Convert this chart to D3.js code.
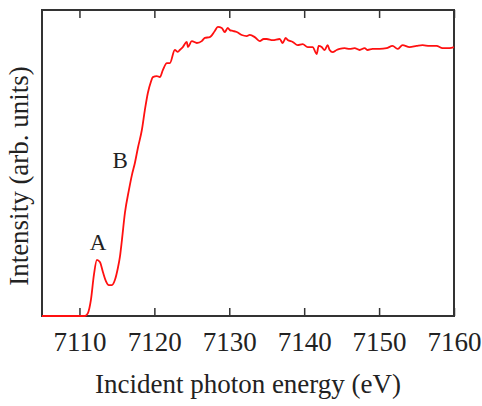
<!DOCTYPE html>
<html>
<head>
<meta charset="utf-8">
<script src="https://cdn.jsdelivr.net/npm/d3@7"></script>
<style>
  html, body { margin: 0; padding: 0; background: #fff; }
  svg { display: block; }
  text { font-family: "Liberation Serif", "Times New Roman", serif; fill: #222; }
</style>
</head>
<body>
<svg id="chart" width="482" height="406"></svg>
<script>
// ---- data ----
const energy = [
  7105.0, 7110.07, 7110.73, 7111.13, 7111.53, 7111.93, 7112.33, 7112.73, 7113.13, 7113.53,
  7113.93, 7114.33, 7114.73, 7115.13, 7115.4, 7115.67, 7116.07, 7116.6, 7117.0, 7117.4,
  7117.8, 7118.33, 7118.73, 7119.13, 7119.53, 7119.8, 7120.33, 7120.73, 7121.13, 7121.67,
  7122.07, 7122.73, 7123.13, 7123.4, 7123.8, 7124.33, 7124.47, 7125.0, 7125.67, 7126.33,
  7126.73, 7127.4, 7128.07, 7128.47, 7129.0, 7129.4, 7129.8, 7130.07, 7130.47, 7131.0,
  7131.67, 7132.33, 7132.73, 7133.4, 7134.07, 7134.6, 7135.0, 7135.8, 7136.73, 7137.13,
  7137.53, 7137.8, 7138.47, 7139.13, 7139.8, 7140.47, 7141.13, 7141.67, 7141.93, 7142.33,
  7142.73, 7143.13, 7143.4, 7143.8, 7144.33, 7144.73, 7145.4, 7146.07, 7146.73, 7147.4,
  7148.07, 7148.47, 7149.13, 7150.07, 7151.0, 7151.8, 7152.47, 7153.13, 7154.07, 7155.0,
  7155.8, 7156.73, 7157.67, 7158.47, 7159.4, 7160.0
];
const intensity = [
  0.000, 0.000, 0.000, 0.011, 0.060, 0.153, 0.209, 0.201, 0.164, 0.130,
  0.115, 0.115, 0.134, 0.179, 0.220, 0.283, 0.384, 0.469, 0.525, 0.570,
  0.626, 0.693, 0.767, 0.831, 0.872, 0.890, 0.894, 0.890, 0.916, 0.942,
  0.942, 0.991, 0.984, 0.991, 1.002, 1.021, 1.002, 1.024, 1.017, 1.024,
  1.036, 1.039, 1.062, 1.077, 1.073, 1.058, 1.073, 1.065, 1.062, 1.058,
  1.047, 1.043, 1.047, 1.039, 1.024, 1.032, 1.032, 1.028, 1.032, 1.017,
  1.036, 1.028, 1.021, 1.009, 1.013, 1.002, 1.002, 0.976, 1.006, 1.002,
  0.991, 1.009, 0.991, 0.983, 0.991, 0.995, 0.998, 0.995, 0.998, 0.991,
  0.998, 0.991, 0.995, 0.995, 0.998, 1.006, 0.995, 1.009, 1.002, 1.006,
  1.009, 1.006, 1.006, 0.998, 0.998, 1.002
];
const xTicks = [7110, 7120, 7130, 7140, 7150, 7160];
const xDomain = [7105, 7160];
const yDomain = [0, 1.14];
const peakLabels = ["A", "B"];
const peakEnergy = [7112.5, 7115.45];
const peakIntensity = [0.246, 0.551];
const xTitle = "Incident photon energy (eV)";
const yTitle = "Intensity (arb. units)";

// ---- layout ----
const svg = d3.select("#chart");
const mLeft = 42, mRight = 454, mTop = 10, mBottom = 316;

const x = d3.scaleLinear().domain(xDomain).range([mLeft, mRight]);
const y = d3.scaleLinear().domain(yDomain).range([mBottom, mTop]);

const frameColor = "#333";

// bottom axis (inward ticks)
const gx = svg.append("g").attr("transform", `translate(0,${mBottom})`)
  .call(d3.axisBottom(x).tickValues(xTicks).tickSizeInner(-8).tickSizeOuter(0).tickPadding(16)
    .tickFormat(d3.format("d")));
gx.select(".domain").remove();
gx.selectAll(".tick line").attr("stroke", frameColor).attr("stroke-width", 1.5);
gx.selectAll(".tick text").attr("font-size", 27).attr("fill", "#222")
  .attr("font-family", '"Liberation Serif", serif');

// top axis ticks (inward)
const gt = svg.append("g").attr("transform", `translate(0,${mTop})`)
  .call(d3.axisTop(x).tickValues(xTicks).tickSizeInner(-8).tickSizeOuter(0).tickFormat(""));
gt.select(".domain").remove();
gt.selectAll(".tick line").attr("stroke", frameColor).attr("stroke-width", 1.5);

// frame
svg.append("rect")
  .attr("x", mLeft).attr("y", mTop)
  .attr("width", mRight - mLeft).attr("height", mBottom - mTop)
  .attr("fill", "none").attr("stroke", frameColor).attr("stroke-width", 2);

// curve
const pts = energy.map((e, i) => [e, intensity[i]]);
svg.append("path")
  .datum(pts)
  .attr("fill", "none")
  .attr("stroke", "#ff1010")
  .attr("stroke-width", 1.8)
  .attr("stroke-linejoin", "round")
  .attr("d", d3.line().x(d => x(d[0])).y(d => y(d[1])).curve(d3.curveMonotoneX));

// peak labels
svg.selectAll("text.peak").data(peakLabels).join("text")
  .attr("class", "peak")
  .attr("x", (d, i) => x(peakEnergy[i]))
  .attr("y", (d, i) => y(peakIntensity[i]))
  .attr("text-anchor", "middle")
  .attr("font-size", 23)
  .text(d => d);

// axis titles
svg.append("text")
  .attr("x", (mLeft + mRight) / 2).attr("y", 393)
  .attr("text-anchor", "middle").attr("font-size", 27)
  .text(xTitle);

svg.append("text")
  .attr("transform", `translate(28,176) rotate(-90)`)
  .attr("text-anchor", "middle").attr("font-size", 27)
  .text(yTitle);
</script>
</body>
</html>
